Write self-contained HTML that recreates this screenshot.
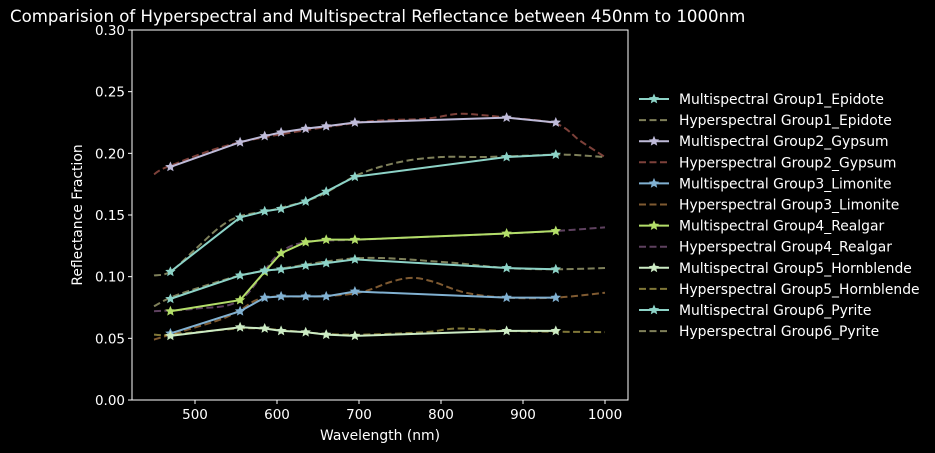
<!DOCTYPE html>
<html><head><meta charset="utf-8"><style>
html,body{margin:0;padding:0;background:#000;width:935px;height:453px;overflow:hidden}
svg text{font-family:"DejaVu Sans","Liberation Sans",sans-serif;fill:#fff}
</style></head><body>
<svg id="chart" width="935" height="453" xmlns="http://www.w3.org/2000/svg">
<text x="10" y="22" font-size="16.6">Comparision of Hyperspectral and Multispectral Reflectance between 450nm to 1000nm</text>
<g id="axes"></g>
<g id="series"></g>
<g id="legend"></g>
<text x="380" y="440" font-size="13.9" text-anchor="middle">Wavelength (nm)</text>
<text transform="translate(82,215) rotate(-90)" font-size="13.9" text-anchor="middle">Reflectance Fraction</text>
</svg>
<script>
const msWave=[470,555,585,605,635,660,695,880,940];
const seriesNames=["Group1_Epidote","Group2_Gypsum","Group3_Limonite","Group4_Realgar","Group5_Hornblende","Group6_Pyrite"];
const msG1=[0.104,0.148,0.153,0.155,0.161,0.169,0.181,0.197,0.199];
const msG2=[0.189,0.209,0.214,0.217,0.220,0.222,0.225,0.229,0.225];
const msG3=[0.054,0.072,0.083,0.084,0.084,0.084,0.088,0.083,0.083];
const msG4=[0.072,0.081,0.104,0.119,0.128,0.130,0.130,0.135,0.137];
const msG5=[0.052,0.059,0.058,0.056,0.055,0.053,0.052,0.056,0.056];
const msG6=[0.082,0.101,0.105,0.106,0.109,0.111,0.114,0.107,0.106];
const hsWave1=[450,470,500,530,555,600,650,700,750,800,850,900,950,1000];
const hsG1=[0.101,0.104,0.122,0.140,0.149,0.155,0.165,0.183,0.193,0.197,0.197,0.198,0.199,0.197];
const hsWave2=[450,470,555,700,780,820,850,880,940,970,1000];
const hsG2=[0.183,0.190,0.209,0.225,0.228,0.232,0.231,0.229,0.224,0.210,0.197];
const hsWave3=[450,470,530,555,585,650,700,740,765,790,830,880,940,1000];
const hsG3=[0.049,0.053,0.065,0.073,0.083,0.084,0.087,0.096,0.099,0.096,0.087,0.083,0.083,0.087];
const hsWave4=[450,500,555,600,635,700,880,940,1000];
const hsG4=[0.072,0.074,0.081,0.117,0.128,0.130,0.135,0.137,0.140];
const hsWave5=[450,470,555,600,650,700,780,820,880,1000];
const hsG5=[0.053,0.053,0.058,0.057,0.054,0.053,0.055,0.058,0.056,0.055];
const hsWave6=[450,470,500,555,600,700,800,880,940,1000];
const hsG6=[0.076,0.083,0.090,0.101,0.106,0.115,0.112,0.107,0.106,0.107];
const xTicks=[500,600,700,800,900,1000];
const yTicks=[0,0.05,0.10,0.15,0.20,0.25,0.30];

const NS="http://www.w3.org/2000/svg";
const X=w=>195+(w-500)*0.82;
const Y=v=>400-v*(370/0.30);
function mk(tag,attrs,parent){const e=document.createElementNS(NS,tag);for(const k in attrs)e.setAttribute(k,attrs[k]);parent.appendChild(e);return e;}
const axes=document.getElementById('axes'),ser=document.getElementById('series'),leg=document.getElementById('legend');
const frame=mk('rect',{x:132,y:30,width:496,height:370,fill:'none',stroke:'#fff','stroke-width':1},axes);


xTicks.forEach(t=>{
  const l=mk('line',{x1:X(t),x2:X(t),y1:400,y2:404,stroke:'#fff'},axes);
  
  
  const tx=mk('text',{x:X(t),y:419,'font-size':13.5,'text-anchor':'middle'},axes);tx.textContent=t;
  
  
});
yTicks.forEach(t=>{
  const l=mk('line',{x1:128,x2:132,y1:Y(t),y2:Y(t),stroke:'#fff'},axes);
  
  
  const tx=mk('text',{x:125,y:Y(t)+5,'font-size':13.5,'text-anchor':'end'},axes);tx.textContent=t.toFixed(2);
  
  
});
function smooth(pts){
  let d=`M${pts[0][0]},${pts[0][1]}`;
  for(let i=0;i<pts.length-1;i++){
    const p0=pts[i-1]||pts[i],p1=pts[i],p2=pts[i+1],p3=pts[i+2]||p2;
    const c1=[p1[0]+(p2[0]-p0[0])/6,p1[1]+(p2[1]-p0[1])/6],c2=[p2[0]-(p3[0]-p1[0])/6,p2[1]-(p3[1]-p1[1])/6];
    d+=` C${c1[0]},${c1[1]} ${c2[0]},${c2[1]} ${p2[0]},${p2[1]}`;
  }
  return d;
}
function star(cx,cy,r){let p=[];for(let i=0;i<10;i++){const a=-Math.PI/2+i*Math.PI/5,rr=i%2?r*0.45:r;p.push((cx+rr*Math.cos(a)).toFixed(1)+','+(cy+rr*Math.sin(a)).toFixed(1));}return p.join(' ');}
const ms=[msG1,msG2,msG3,msG4,msG5,msG6];
const hw=[hsWave1,hsWave2,hsWave3,hsWave4,hsWave5,hsWave6];
const hs=[hsG1,hsG2,hsG3,hsG4,hsG5,hsG6];
const msCol=['#8dd3c7','#bfbbd9','#81b1d2','#b3de69','#ccebc4','#8dd3c7'];
const hsCol=['#feffb3','#fa8174','#fdb462','#bc82bd','#ffed6f','#feffb3'];
for(let g=0;g<6;g++){
  const hp=mk('path',{d:smooth(hw[g].map((w,i)=>[X(w),Y(hs[g][i])])),fill:'none',stroke:hsCol[g],'stroke-width':2,'stroke-dasharray':'7,3.5',opacity:0.5},ser);
  
  
  const mp=mk('polyline',{points:msWave.map((w,i)=>X(w)+','+Y(ms[g][i])).join(' '),fill:'none',stroke:msCol[g],'stroke-width':2},ser);
  
  
  msWave.forEach((w,i)=>{
    const s=mk('polygon',{points:star(X(w),Y(ms[g][i]),5.5),fill:msCol[g]},ser);
    
    
  });
}
for(let g=0;g<6;g++){
  for(let k=0;k<2;k++){
    const y=99+(g*2+k)*21.1;
    if(k===0){
      const l=mk('line',{x1:639,x2:669,y1:y,y2:y,stroke:msCol[g],'stroke-width':2},leg);
      
      
      const s=mk('polygon',{points:star(654,y,5.5),fill:msCol[g]},leg);
      
      
    } else {
      const l=mk('line',{x1:639,x2:669,y1:y,y2:y,stroke:hsCol[g],'stroke-width':2,'stroke-dasharray':'7,3.5',opacity:0.5},leg);
      
      
    }
    const t=mk('text',{x:679,y:y+5,'font-size':13.9},leg);
    t.textContent=(k===0?'Multispectral ':'Hyperspectral ')+seriesNames[g];
    
    
  }
}
</script>
</body></html>
